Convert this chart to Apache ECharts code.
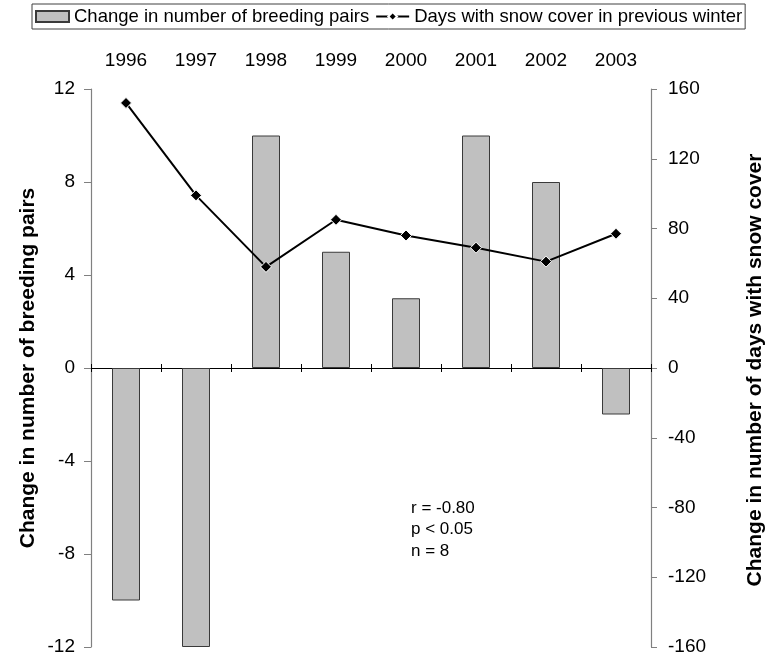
<!DOCTYPE html>
<html>
<head>
<meta charset="utf-8">
<script src="https://cdn.jsdelivr.net/npm/echarts@6/dist/echarts.min.js"></script>
<style>
  html, body { margin: 0; padding: 0; background: #fff; }
  #chart { width: 769px; height: 661px; }
</style>
</head>
<body>
<div id="chart"></div>
<script>
// Breeding pairs vs. snow cover, 1996–2003
const years = ['1996', '1997', '1998', '1999', '2000', '2001', '2002', '2003'];
const pairChange = [-10, -12, 10, 5, 3, 10, 8, -2];
const snowDays = [152, 99, 58, 85, 76, 69, 61, 77];
const statsLines = ['r = -0.80', 'p < 0.05', 'n = 8'];
const leftTitle = 'Change in number of breeding pairs';
const rightTitle = 'Change in number of days with snow cover';

const FONT = 'Liberation Sans, Arial, sans-serif';
const chart = echarts.init(document.getElementById('chart'));

const tickLabel = { fontSize: 19, color: '#000', fontFamily: FONT };

chart.setOption({
  animation: false,
  backgroundColor: '#fff',
  textStyle: { fontFamily: FONT },
  legend: {
    top: 4,
    left: 32,
    borderColor: '#404040',
    borderWidth: 1,
    borderRadius: 0,
    padding: [3, 3, 3, 3],
    itemGap: 6,
    itemWidth: 33,
    itemHeight: 11,
    textStyle: { fontSize: 18.5, color: '#000', fontFamily: FONT },
    data: [
      { name: 'Change in number of breeding pairs', icon: 'rect' },
      { name: 'Days with snow cover in previous winter' }
    ]
  },
  grid: { left: 91, right: 118, top: 89, bottom: 14, containLabel: false },
  xAxis: [
    {
      // zero line with downward ticks
      type: 'category',
      data: years,
      position: 'bottom',
      boundaryGap: true,
      axisLine: { onZero: true, onZeroAxisIndex: 0, lineStyle: { color: '#000', width: 1 } },
      axisTick: { show: true, length: 4, lineStyle: { color: '#000' } },
      axisLabel: { show: false }
    },
    {
      // year labels above the plot
      type: 'category',
      data: years,
      position: 'top',
      boundaryGap: true,
      axisLine: { show: false, onZero: false },
      axisTick: { show: false },
      axisLabel: Object.assign({ show: true, margin: 19 }, tickLabel)
    },
    {
      // upward half of the zero-line ticks
      type: 'category',
      data: years,
      position: 'top',
      boundaryGap: true,
      axisLine: { show: false, onZero: true, onZeroAxisIndex: 0 },
      axisTick: { show: true, length: 4, lineStyle: { color: '#000' } },
      axisLabel: { show: false }
    }
  ],
  yAxis: [
    {
      type: 'value',
      min: -12, max: 12, interval: 4,
      position: 'left',
      axisLine: { show: true, lineStyle: { color: '#808080', width: 1.2 } },
      axisTick: { show: true, length: 7, lineStyle: { color: '#808080' } },
      axisLabel: Object.assign({ margin: 16 }, tickLabel),
      splitLine: { show: false }
    },
    {
      type: 'value',
      min: -160, max: 160, interval: 40,
      position: 'right',
      axisLine: { show: true, lineStyle: { color: '#808080', width: 1.2 } },
      axisTick: { show: true, length: 6, lineStyle: { color: '#808080' } },
      axisLabel: Object.assign({ margin: 17 }, tickLabel),
      splitLine: { show: false }
    }
  ],
  series: [
    {
      name: 'Change in number of breeding pairs',
      type: 'bar',
      xAxisIndex: 0,
      yAxisIndex: 0,
      data: pairChange,
      barWidth: '40%',
      itemStyle: { color: '#c0c0c0', borderColor: '#3a3a3a', borderWidth: 1 }
    },
    {
      name: 'Days with snow cover in previous winter',
      type: 'line',
      xAxisIndex: 0,
      yAxisIndex: 1,
      data: snowDays,
      symbol: 'diamond',
      symbolSize: 11,
      lineStyle: { color: '#000', width: 2 },
      itemStyle: { color: '#000', borderColor: '#fff', borderWidth: 1 }
    }
  ],
  graphic: [
    {
      type: 'text',
      x: 28, y: 368,
      rotation: Math.PI / 2,
      style: { text: leftTitle, fontSize: 21, fontWeight: 'bold', fill: '#000',
               fontFamily: FONT, align: 'center', verticalAlign: 'middle' }
    },
    {
      type: 'text',
      x: 755, y: 370,
      rotation: Math.PI / 2,
      style: { text: rightTitle, fontSize: 21, fontWeight: 'bold', fill: '#000',
               fontFamily: FONT, align: 'center', verticalAlign: 'middle' }
    }
  ].concat(statsLines.map((t, i) => ({
    type: 'text',
    x: 411,
    y: 508 + i * 21.5,
    style: { text: t, fontSize: 17, fill: '#000', fontFamily: FONT, verticalAlign: 'middle' }
  })))
});
</script>
</body>
</html>
